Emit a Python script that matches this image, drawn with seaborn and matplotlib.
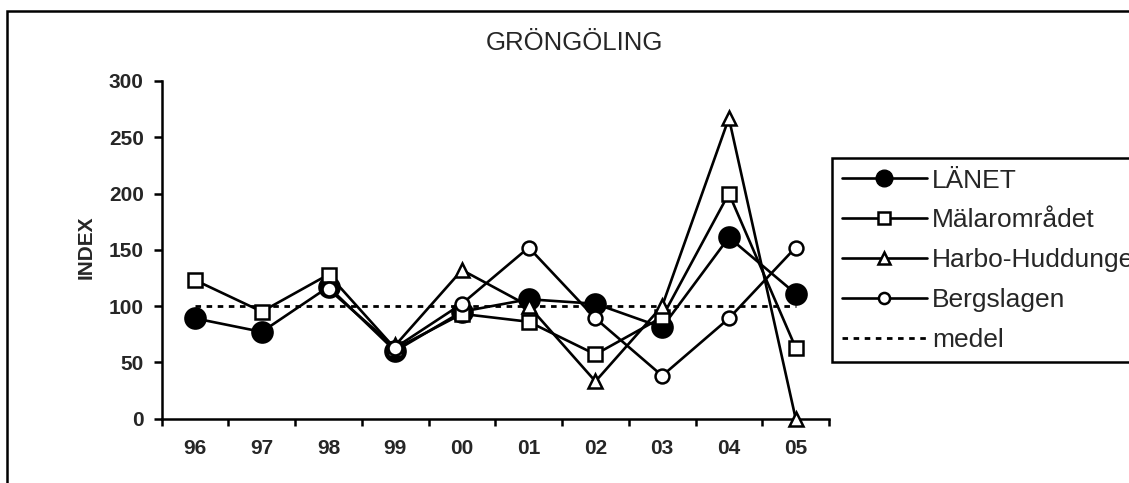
import numpy as np
import pandas as pd
import matplotlib
matplotlib.use("Agg")
import matplotlib.pyplot as plt
import seaborn as sns
from matplotlib.lines import Line2D
from matplotlib.patches import Rectangle

# ---------------- data ----------------
years = ["96", "97", "98", "99", "00", "01", "02", "03", "04", "05"]
lanet = [89, 77, 117, 60, 95, 106, 102, 81, 161, 111]
malar = [123, 95, 128, 62, 93, 86, 57, 90, 200, 63]
harbo = [np.nan, np.nan, np.nan, 65, 132, 100, 33, 100, 267, 0]
berg = [np.nan, np.nan, 115, 63, 102, 152, 89, 38, 89, 152]
medel = [100] * 10
series_names = ["LÄNET", "Mälarområdet", "Harbo-Huddunge", "Bergslagen", "medel"]
title = "GRÖNGÖLING"
ylabel = "INDEX"
yticks = [0, 50, 100, 150, 200, 250, 300]

# ---------------- style ----------------
sns.set_style("white")
plt.rcParams["font.family"] = ["Liberation Sans", "DejaVu Sans"]

W, H = 1129, 483
fig = plt.figure(figsize=(W / 100, H / 100), dpi=100)
ax = fig.add_axes([161.7 / W, 1 - 418.5 / H, (829 - 161.7) / W, (418.5 - 81) / H])

x = np.arange(len(years))
df = pd.DataFrame({"x": x, "LÄNET": lanet, "Mälarområdet": malar,
                   "Harbo-Huddunge": harbo, "Bergslagen": berg, "medel": medel})

LW = 1.9
styles = {
    "LÄNET": dict(marker="o", markersize=14.5, markerfacecolor="black"),
    "Mälarområdet": dict(marker="s", markersize=9.5, markerfacecolor="white"),
    "Harbo-Huddunge": dict(marker="^", markersize=10, markerfacecolor="white"),
    "Bergslagen": dict(marker="o", markersize=10, markerfacecolor="white"),
}
for i, name in enumerate(series_names[:4]):
    st = styles[name]
    sub = df[["x", name]].dropna()
    sns.lineplot(data=sub, x="x", y=name, ax=ax, color="black", linewidth=LW,
                 marker=st["marker"], markersize=st["markersize"],
                 markerfacecolor=st["markerfacecolor"], markeredgecolor="black",
                 markeredgewidth=1.8, clip_on=False, zorder=3 + i, legend=False)

sns.lineplot(data=df, x="x", y="medel", ax=ax, color="black", linewidth=2.0,
             linestyle=(0, (2.0, 2.0)), zorder=2, legend=False)

ax.set_xlim(-0.5, len(years) - 0.5)
ax.set_ylim(0, 300)
ax.set_yticks(yticks)
ax.set_yticklabels([str(v) for v in yticks])
ax.set_xticks(np.arange(len(years) + 1) - 0.5)
ax.set_xticklabels([])
ax.set_xticks(x, minor=True)
ax.set_xticklabels(years, minor=True)
ax.set_xlabel("")
ax.set_ylabel("")

for s in ["top", "right"]:
    ax.spines[s].set_visible(False)
for s in ["left", "bottom"]:
    ax.spines[s].set_linewidth(1.8)
    ax.spines[s].set_color("black")

ax.tick_params(axis="y", which="major", direction="out", length=6, width=1.8,
               color="black", pad=7, labelsize=15, left=True)
ax.tick_params(axis="x", which="major", direction="out", length=5, width=1.8,
               color="black", bottom=True)
ax.tick_params(axis="x", which="minor", length=0, pad=15, labelsize=15, bottom=True)
for lab in ax.get_yticklabels() + ax.get_xticklabels(minor=True):
    lab.set_fontweight("bold")

fig.text(574 / W, 1 - 43 / H, title, ha="center", va="center", fontsize=18.5)
fig.text(86 / W, 1 - 247 / H, ylabel, ha="center", va="center", rotation=90,
         fontsize=15, fontweight="bold")

# legend (frame runs past the right edge like the reference)
handles = [
    Line2D([], [], color="black", lw=LW, marker="o", markersize=12,
           markerfacecolor="black", markeredgecolor="black"),
    Line2D([], [], color="black", lw=LW, marker="s", markersize=8,
           markerfacecolor="white", markeredgecolor="black", markeredgewidth=1.8),
    Line2D([], [], color="black", lw=LW, marker="^", markersize=8,
           markerfacecolor="white", markeredgecolor="black", markeredgewidth=1.8),
    Line2D([], [], color="black", lw=LW, marker="o", markersize=8,
           markerfacecolor="white", markeredgecolor="black", markeredgewidth=1.8),
    Line2D([], [], color="black", lw=2.0, linestyle=(0, (2.0, 2.0))),
]
leg = fig.legend(handles, series_names, loc="upper left",
                 bbox_to_anchor=(831.7 / W, 1 - 158 / H, 0.3, 0),
                 bbox_transform=fig.transFigure, mode="expand",
                 borderaxespad=0, frameon=True, fancybox=False, edgecolor="black",
                 framealpha=1, fontsize=19, handlelength=3.2, handletextpad=0.2,
                 labelspacing=0.6, borderpad=0.4)
leg.get_frame().set_linewidth(1.8)

# outer border (extends beyond right and bottom edges)
fig.patches.append(Rectangle((7 / W, -0.5), 2.0, 1 - 11 / H + 0.5,
                             transform=fig.transFigure, fill=False,
                             edgecolor="black", linewidth=1.8, clip_on=False))

fig.savefig("out.png", dpi=100)
